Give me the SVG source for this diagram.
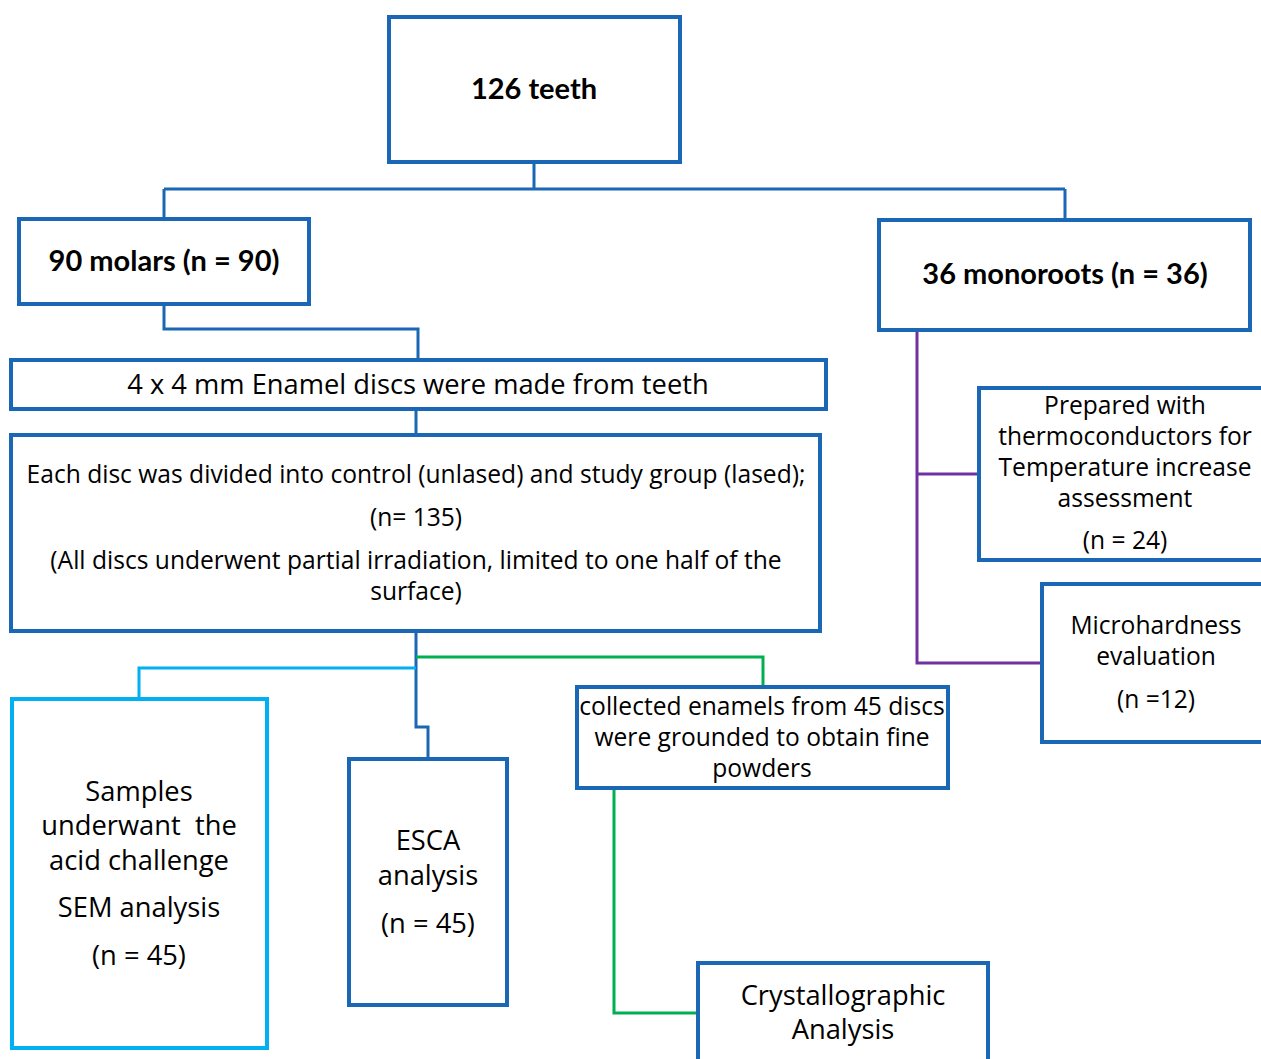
<svg xmlns="http://www.w3.org/2000/svg" width="1261" height="1059" viewBox="0 0 1261 1059">
<style>
.box{fill:#fff;stroke:#1a67b5;stroke-width:4}
.lb{fill:#fff;stroke:#00b0f0;stroke-width:4}
.c{fill:none;stroke:#1a67b5;stroke-width:3}
.cl{fill:none;stroke:#00b0f0;stroke-width:3}
.cg{fill:none;stroke:#00b050;stroke-width:3}
.cp{fill:none;stroke:#7030a0;stroke-width:3}
text{font-family:"Open Sans","Liberation Sans",sans-serif;fill:#000;text-anchor:middle;white-space:pre}
.b{font-family:Lato,"Liberation Sans",sans-serif;font-weight:bold;font-size:29px}
.t{font-size:27.3px}
.s{font-size:24.6px}
</style>
<rect width="1261" height="1059" fill="#fff"/>
<g id="connectors">
<path class="c" d="M534,163V189M164,189H1065M164,189V218M1065,189V219"/>
<path class="c" d="M164,305V329H418V359"/>
<path class="c" d="M416,410V434"/>
<path class="c" d="M416,632V727H428V758"/>
<path class="cl" d="M416,668H139V698"/>
<path class="cg" d="M416,657H763V686"/>
<path class="cg" d="M614,789V1013H697"/>
<path class="cp" d="M917,331V663H1041M917,474H978"/>
</g>
<g id="n-teeth"><rect class="box" x="389" y="17" width="291" height="145"/><text class="b" x="534" y="99">126 teeth</text></g>
<g id="n-molars"><rect class="box" x="19" y="219" width="290" height="85"/><text class="b" x="164" y="271">90 molars (n = 90)</text></g>
<g id="n-monoroots"><rect class="box" x="879" y="220" width="371" height="110"/><text class="b" x="1065" y="284">36 monoroots (n = 36)</text></g>
<g id="n-discs"><rect class="box" x="11" y="360" width="815" height="49"/><text class="t" x="418" y="394">4 x 4 mm Enamel discs were made from teeth</text></g>
<g id="n-divided"><rect class="box" x="11" y="435" width="809" height="196"/>
<text class="s" x="416" y="483">Each disc was divided into control (unlased) and study group (lased);</text>
<text class="s" x="416" y="526">(n= 135)</text>
<text class="s" x="416" y="569">(All discs underwent partial irradiation, limited to one half of the</text>
<text class="s" x="416" y="600">surface)</text></g>
<g id="n-sem"><rect class="lb" x="12" y="699" width="255" height="349"/>
<text class="t" x="139" y="801">Samples</text>
<text class="t" x="139" y="835" xml:space="preserve">underwant  the</text>
<text class="t" x="139" y="870">acid challenge</text>
<text class="t" x="139" y="917">SEM analysis</text>
<text class="t" x="139" y="965">(n = 45)</text></g>
<g id="n-esca"><rect class="box" x="349" y="759" width="158" height="246"/>
<text class="t" x="428" y="850">ESCA</text>
<text class="t" x="428" y="885">analysis</text>
<text class="t" x="428" y="933">(n = 45)</text></g>
<g id="n-collected"><rect class="box" x="577" y="687" width="371" height="101"/>
<text class="s" x="762" y="715">collected enamels from 45 discs</text>
<text class="s" x="762" y="746">were grounded to obtain fine</text>
<text class="s" x="762" y="777">powders</text></g>
<g id="n-crystal"><rect class="box" x="698" y="963" width="290" height="100"/>
<text class="t" x="843" y="1005">Crystallographic</text>
<text class="t" x="843" y="1039">Analysis</text></g>
<g id="n-prepared"><rect class="box" x="979" y="388" width="290" height="172"/>
<text class="s" x="1125" y="414">Prepared with</text>
<text class="s" x="1125" y="445">thermoconductors for</text>
<text class="s" x="1125" y="476">Temperature increase</text>
<text class="s" x="1125" y="507">assessment</text>
<text class="s" x="1125" y="549">(n = 24)</text></g>
<g id="n-micro"><rect class="box" x="1042" y="584" width="230" height="158"/>
<text class="s" x="1156" y="634">Microhardness</text>
<text class="s" x="1156" y="665">evaluation</text>
<text class="s" x="1156" y="708">(n =12)</text></g>
</svg>
